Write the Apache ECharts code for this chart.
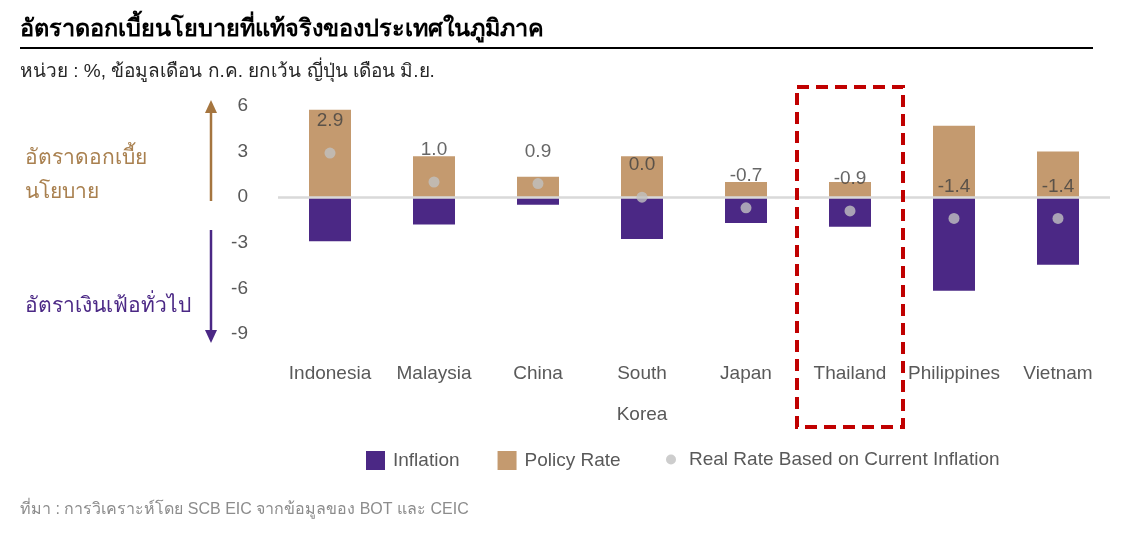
<!DOCTYPE html>
<html>
<head>
<meta charset="utf-8">
<script src="https://cdn.jsdelivr.net/npm/echarts@6/dist/echarts.min.js"></script>
<style>
  html, body { margin: 0; padding: 0; background: #fff; }
  #main { width: 1140px; height: 539px; }
</style>
</head>
<body>
<div id="main"></div>
<script>
// ข้อมูล อ่านจากภาพ (%)
var countries = ['Indonesia', 'Malaysia', 'China', 'South\nKorea', 'Japan', 'Thailand', 'Philippines', 'Vietnam'];
var policyRate = [5.75, 2.7, 1.35, 2.7, 1.0, 1.0, 4.7, 3.0];
var inflation = [-2.9, -1.8, -0.5, -2.75, -1.7, -1.95, -6.15, -4.45];
var realRate = [2.9, 1.0, 0.9, 0.0, -0.7, -0.9, -1.4, -1.4];
var yTicks = [-9, -6, -3, 0, 3, 6];

var FONT = '"Liberation Sans", "Noto Sans", "DejaVu Sans", sans-serif';
var PURPLE = '#4b2885';
var TAN = '#c49a6f';
var GREY_DOT = '#c0c0c0';

var myChart = echarts.init(document.getElementById('main'));

var option = {
    animation: false,
    backgroundColor: '#fff',
    textStyle: {fontFamily: FONT},
    grid: {left: 278, right: 30, top: 106, bottom: 205},
    legend: [
        {
            left: 366,
            top: 451,
            padding: 0,
            itemWidth: 19,
            itemHeight: 19,
            itemGap: 38,
            textStyle: {fontSize: 19, color: '#595959', fontFamily: FONT, padding: [0, 0, 0, 3]},
            data: [
                {name: 'Inflation', icon: 'rect'},
                {name: 'Policy Rate', icon: 'rect'}
            ]
        },
        {
            left: 666,
            top: 450,
            padding: 0,
            itemWidth: 10,
            itemHeight: 10,
            textStyle: {fontSize: 19, color: '#595959', fontFamily: FONT, padding: [0, 0, 0, 8]},
            data: [{name: 'Real Rate Based on Current Inflation', icon: 'circle'}]
        }
    ],
    xAxis: {
        type: 'category',
        data: countries,
        axisLine: {show: false},
        axisTick: {show: false},
        axisLabel: {fontSize: 19, color: '#595959', margin: 19, lineHeight: 41, interval: 0}
    },
    yAxis: {
        type: 'value',
        min: yTicks[0],
        max: yTicks[yTicks.length - 1],
        interval: 3,
        axisLine: {show: false},
        axisTick: {show: false},
        splitLine: {show: false},
        axisLabel: {fontSize: 19, color: '#595959', margin: 30}
    },
    series: [
        {
            name: 'Inflation',
            type: 'bar',
            data: inflation,
            barWidth: 42,
            barGap: '-100%',
            itemStyle: {color: PURPLE}
        },
        {
            name: 'Policy Rate',
            type: 'bar',
            data: policyRate,
            barWidth: 42,
            itemStyle: {color: TAN}
        },
        {
            name: 'Real Rate Based on Current Inflation',
            type: 'scatter',
            data: realRate,
            symbol: 'circle',
            symbolSize: 11,
            z: 5,
            itemStyle: {color: GREY_DOT},
            label: {
                show: true,
                position: 'top',
                distance: 17,
                fontSize: 19,
                color: '#404040',
                formatter: function(p) { return p.value.toFixed(1); }
            },
            markLine: {
                silent: true,
                symbol: ['none', 'none'],
                label: {show: false},
                lineStyle: {color: '#d9d9d9', width: 2.5, type: 'solid'},
                data: [{yAxis: 0}]
            }
        }
    ]
};

myChart.setOption(option);

// กรอบเส้นประรอบประเทศไทย และคำอธิบายด้านซ้าย
var thX = myChart.convertToPixel({xAxisIndex: 0}, 'Thailand');
var half = 53;

myChart.setOption({
    graphic: [
        {type: 'text', left: 20, top: 18, style: {text: 'อัตราดอกเบี้ยนโยบายที่แท้จริงของประเทศในภูมิภาค', font: 'bold 23.5px ' + FONT, fill: '#000'}},
        {type: 'line', shape: {x1: 20, y1: 48, x2: 1093, y2: 48}, style: {stroke: '#000', lineWidth: 2}},
        {type: 'text', left: 20, top: 62, style: {text: 'หน่วย : %, ข้อมูลเดือน ก.ค. ยกเว้น ญี่ปุ่น เดือน มิ.ย.', font: '19px ' + FONT, fill: '#262626'}},
        {type: 'text', left: 20, top: 502, style: {text: 'ที่มา : การวิเคราะห์โดย SCB EIC จากข้อมูลของ BOT และ CEIC', font: '16px ' + FONT, fill: '#8c8c8c'}},

        {type: 'text', left: 25, top: 141, style: {text: 'อัตราดอกเบี้ย\nนโยบาย', font: '21px ' + FONT, fill: '#a9804f', lineHeight: 34}},
        {type: 'line', shape: {x1: 211, y1: 201, x2: 211, y2: 112}, style: {stroke: '#a5753f', lineWidth: 2.5}},
        {type: 'polygon', shape: {points: [[211, 100], [205, 113], [217, 113]]}, style: {fill: '#a5753f'}},
        {type: 'text', left: 25, top: 296, style: {text: 'อัตราเงินเฟ้อทั่วไป', font: '21px ' + FONT, fill: PURPLE}},
        {type: 'line', shape: {x1: 211, y1: 230, x2: 211, y2: 330}, style: {stroke: PURPLE, lineWidth: 2.5}},
        {type: 'polygon', shape: {points: [[211, 343], [205, 330], [217, 330]]}, style: {fill: PURPLE}},

        {type: 'rect', shape: {x: thX - half, y: 87, width: half * 2, height: 340},
         style: {fill: 'none', stroke: '#c00000', lineWidth: 4, lineDash: [12, 7]}, z: 10}
    ]
});
</script>
</body>
</html>
